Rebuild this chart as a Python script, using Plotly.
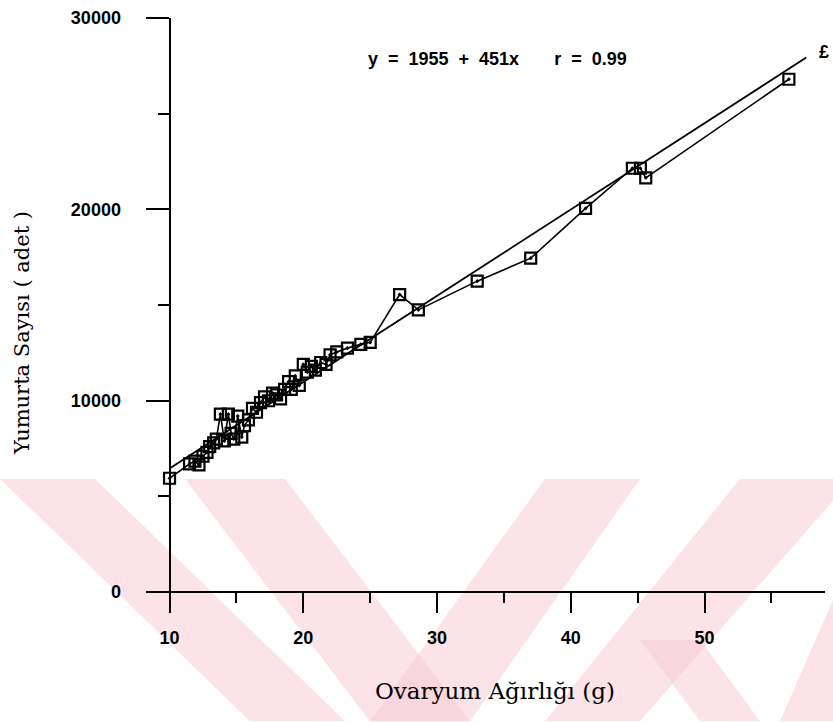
import plotly.graph_objects as go

# ---- data ----
ovary_weight_g = [10.0, 11.5, 11.9, 12.2, 12.5, 12.8, 13.0, 13.3, 13.5, 13.8,
                  14.1, 14.4, 14.6, 14.8, 15.1, 15.4, 15.6, 15.9, 16.2, 16.5,
                  16.8, 17.1, 17.4, 17.7, 18.0, 18.3, 18.6, 18.9, 19.1, 19.4,
                  19.7, 20.0, 20.3, 20.6, 20.9, 21.3, 21.7, 22.0, 22.5, 23.3,
                  24.3, 25.0, 27.2, 28.6, 33.0, 37.0, 41.1, 44.6, 45.2, 45.6,
                  56.3]
egg_count = [5950, 6700, 6850, 6650, 7100, 7300, 7600, 7800, 8000, 9300,
             7900, 9300, 8300, 8000, 9200, 8100, 8700, 9000, 9600, 9400,
             9900, 10200, 10000, 10400, 10300, 10100, 10600, 11000, 10600, 11300,
             10800, 11900, 11500, 11800, 11600, 12000, 11900, 12400, 12550, 12750,
             12950, 13050, 15550, 14750, 16250, 17450, 20050, 22150, 22150, 21650,
             26800]

reg_intercept = 1955
reg_slope = 451
reg_x = [10.0, 57.6]
reg_y = [reg_intercept + reg_slope * v for v in reg_x]

x_ticks = [10, 20, 30, 40, 50]
x_minor = [15, 25, 35, 45, 55]
y_ticks = [0, 10000, 20000, 30000]
y_minor = [5000, 15000, 25000]

NB = "\u00a0"
equation_parts = ["y", "=", "1955", "+", "451x", "r", "=", "0.99"]
equation_text = (NB * 2).join(equation_parts[:5]) + NB * 7 + (NB * 2).join(equation_parts[5:])
x_title = "Ovaryum Ağırlığı (g)"
y_title = "Yumurta Sayısı ( adet )"

# ---- layout geometry ----
W, H = 833, 722
ML, MR, MT, MB = 148, 8, 14, 109
PW, PH = W - ML - MR, H - MT - MB
X_RANGE = [8.39, 59.0]
Y_RANGE = [-1090, 30000]


def px(xp):
    return (xp - ML) / PW


def py(yp):
    return (H - MB - yp) / PH


fig = go.Figure()

# watermark (light pink stripes)
pink = "rgba(248,200,210,0.5)"
wm_polys = [
    [(0, 478), (95, 478), (345, 722), (250, 722)],
    [(185, 478), (285, 478), (470, 722), (370, 722)],
    [(545, 478), (640, 478), (470, 722), (370, 722)],
    [(740, 478), (833, 478), (833, 500), (640, 722), (545, 722)],
    [(640, 640), (700, 640), (760, 722), (700, 722)],
    [(833, 600), (833, 722), (780, 722)],
]
for poly in wm_polys:
    path = "M " + " L ".join(f"{px(a):.4f},{py(b):.4f}" for a, b in poly) + " Z"
    fig.add_shape(type="path", path=path, xref="paper", yref="paper",
                  fillcolor=pink, line=dict(width=0), layer="below")

fig.add_trace(go.Scatter(
    x=reg_x, y=reg_y, mode="lines",
    line=dict(color="black", width=1.8), hoverinfo="skip", showlegend=False))

fig.add_trace(go.Scatter(
    x=ovary_weight_g, y=egg_count, mode="lines+markers",
    line=dict(color="black", width=1.6),
    marker=dict(symbol="square-open-dot", size=11, color="black",
                line=dict(color="black", width=2.2)),
    showlegend=False))

sans = "Liberation Sans, Arial, sans-serif"
tick_font = dict(family=sans, size=18, color="black", weight="bold")

fig.update_xaxes(
    range=X_RANGE, anchor="free", position=(0 - Y_RANGE[0]) / (Y_RANGE[1] - Y_RANGE[0]),
    showline=True, linecolor="black", linewidth=2,
    showgrid=False, zeroline=False,
    tickmode="array", tickvals=x_ticks, ticktext=[str(v) for v in x_ticks],
    ticks="outside", ticklen=20, tickwidth=1.8, tickcolor="black",
    ticklabelstandoff=9, tickfont=tick_font,
    minor=dict(tickmode="array", tickvals=x_minor, ticks="outside",
               ticklen=10, tickwidth=1.5, tickcolor="black", showgrid=False),
)
fig.update_yaxes(
    range=Y_RANGE, anchor="free", position=(10 - X_RANGE[0]) / (X_RANGE[1] - X_RANGE[0]),
    showline=True, linecolor="black", linewidth=2,
    showgrid=False, zeroline=False,
    tickmode="array", tickvals=y_ticks, ticktext=[str(v) for v in y_ticks],
    ticks="outside", ticklen=23, tickwidth=1.8, tickcolor="black",
    ticklabelstandoff=21, tickfont=tick_font,
    minor=dict(tickmode="array", tickvals=y_minor, ticks="outside",
               ticklen=11, tickwidth=1.5, tickcolor="black", showgrid=False),
)

serif = "DejaVu Serif, Liberation Serif, serif"
fig.add_annotation(text=y_title, xref="paper", yref="paper",
                   x=px(22), y=py(331), showarrow=False, textangle=-90,
                   font=dict(family=serif, size=21, color="black"),
                   xanchor="center", yanchor="middle")
fig.add_annotation(text=x_title, xref="paper", yref="paper",
                   x=px(495), y=py(692), showarrow=False,
                   font=dict(family=serif, size=23, color="black"),
                   xanchor="center", yanchor="middle")
fig.add_annotation(text=equation_text, xref="paper", yref="paper",
                   x=px(366), y=py(55), showarrow=False,
                   font=dict(family=sans, size=18, color="black", weight="bold"),
                   xanchor="left", yanchor="middle")
fig.add_annotation(text="£", xref="paper", yref="paper",
                   x=px(824), y=py(48), showarrow=False,
                   font=dict(family=sans, size=18, color="black", weight="bold"),
                   xanchor="center", yanchor="middle")

fig.update_layout(
    width=W, height=H,
    margin=dict(l=ML, r=MR, t=MT, b=MB, pad=0),
    paper_bgcolor="white", plot_bgcolor="rgba(0,0,0,0)",
    showlegend=False,
)

fig.write_html("out.html", config={"displayModeBar": False},
               post_script="document.body.style.margin='0';document.body.style.padding='0';")
